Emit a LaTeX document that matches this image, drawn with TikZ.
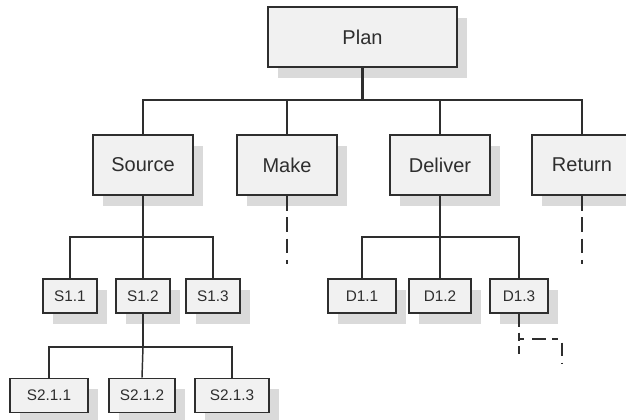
\documentclass[tikz,border=0pt]{standalone}
\usepackage{fontspec}
\setmainfont{Liberation Sans}
\usepackage{pgf,tikz}
\usetikzlibrary{positioning, shadows}
\definecolor{relleno}{HTML}{F1F1F1}
\definecolor{sombra}{HTML}{DADADA}
\definecolor{borde}{HTML}{2E2E2E}
\tikzstyle{proceso} = [draw=borde, fill=relleno, line width=1.4pt, rectangle, inner sep=0pt, minimum width=75pt, minimum height=45pt, text=borde, font=\fontsize{15}{17}\selectfont, drop shadow={shadow xshift=7.5pt, shadow yshift=-8pt, fill=sombra, opacity=1}]
\tikzstyle{subproceso} = [proceso, minimum width=40.5pt, minimum height=25.5pt, font=\fontsize{11.5}{13}\selectfont]
\tikzstyle{conector} = [draw=borde, line width=1.1pt]
\tikzstyle{gruesa} = [draw=borde, line width=2pt]
\tikzstyle{punteado} = [draw=borde, line width=1.1pt, dash pattern=on 11pt off 5pt]

\begin{document}
\begin{tikzpicture}[x=0.75pt, y=-0.75pt]
	\useasboundingbox (0,0) rectangle (626,419);
	% procesos
	\node[proceso, minimum width=142pt] (plan) at (362.5,37) {Plan};
	\node[proceso] (source) at (143,165) {Source};
	\node[proceso] (make) at (287,165) {Make};
	\node[proceso] (deliver) at (440,165) {Deliver};
	\node[proceso] (return) at (582,165) {Return};
	% subprocesos
	\node[subproceso] (s11) at (70,296) {S1.1};
	\node[subproceso] (s12) at (143,296) {S1.2};
	\node[subproceso] (s13) at (213,296) {S1.3};
	\node[subproceso, minimum width=58pt] (s211) at (49,395.5) {S2.1.1};
	\node[subproceso, minimum width=50pt] (s212) at (142,395.5) {S2.1.2};
	\node[subproceso, minimum width=55pt] (s213) at (232,395.5) {S2.1.3};
	\node[subproceso, minimum width=51pt] (d11) at (362,296) {D1.1};
	\node[subproceso, minimum width=47pt] (d12) at (440,296) {D1.2};
	\node[subproceso, minimum width=44pt] (d13) at (519,296) {D1.3};
	% conectores
	\coordinate (barra) at (362.5,100);
	\coordinate (barraS) at (143,237);
	\coordinate (barraSS) at (143,347);
	\coordinate (barraD) at (440,237);
	\coordinate (ramaD) at (519,339);
	\draw[gruesa] (plan.south) -- (barra);
	\draw[conector] (source.north) |- (barra) -| (return.north);
	\foreach \n in {make, deliver}
		\draw[conector] (\n.north) -- (\n.north |- barra);
	\draw[gruesa] (source.south) -- (barraS);
	\draw[conector] (s11.north) |- (barraS) -| (s13.north);
	\draw[conector] (barraS) -- (s12.north);
	\draw[gruesa] (s12.south) -- (barraSS);
	\draw[conector] (s211.north) |- (barraSS) -| (s213.north);
	\draw[conector] (barraSS) -- (s212.north);
	\draw[conector] (deliver.south) -- (barraD);
	\draw[conector] (d11.north) |- (barraD) -| (d13.north);
	\draw[conector] (barraD) -- (d12.north);
	% ramas sin desarrollar
	\foreach \n in {make, return}
		\draw[punteado] (\n.south) -- ++(0,68);
	\draw[gruesa, dash pattern=on 10pt off 4pt on 6pt off 4pt on 6pt off 40pt] (d13.south) -- ++(0,50);
	\draw[punteado, dash pattern=on 4pt off 6pt on 10pt off 5pt] (ramaD) -| ++(43,24);
\end{tikzpicture}
\end{document}
